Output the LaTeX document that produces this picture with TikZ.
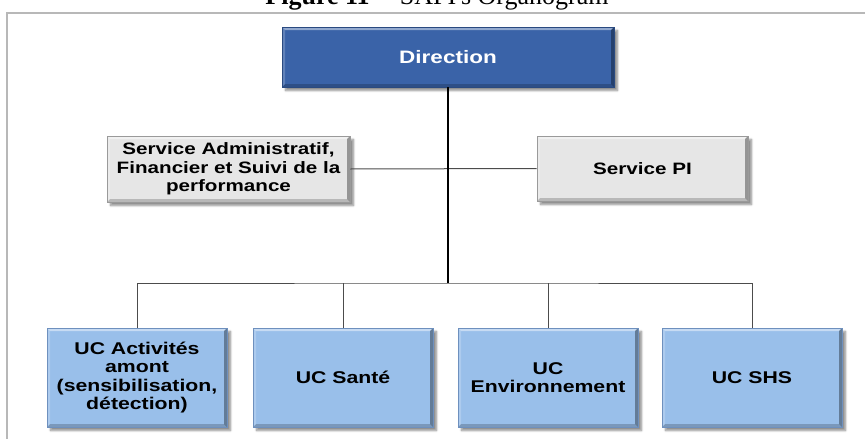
\documentclass[tikz,border=0pt]{standalone}
\usepackage{fontspec}
\setmainfont{Liberation Sans}[FakeStretch=1.25]
\newfontfamily\captionserif{Liberation Serif}
\usetikzlibrary{shadows.blur}

\definecolor{dirblue}{HTML}{3A63A8}
\definecolor{dirborder}{HTML}{2A4A80}
\definecolor{ucblue}{HTML}{99BFEA}
\definecolor{ucborder}{HTML}{6E90BE}
\definecolor{svcgray}{HTML}{E6E6E6}
\definecolor{svcborder}{HTML}{9A9A9A}

\begin{document}
\begin{tikzpicture}[x=1pt, y=-1pt,
    bevel/.style={path picture={
        \fill[white, opacity=0.45] (path picture bounding box.north west) -- (path picture bounding box.north east) -- ([shift={(-3pt,-3pt)}]path picture bounding box.north east) -- ([shift={(3pt,-3pt)}]path picture bounding box.north west) -- cycle;
        \fill[black, opacity=0.35] (path picture bounding box.south east) -- (path picture bounding box.north east) -- ([shift={(-3pt,-3pt)}]path picture bounding box.north east) -- ([shift={(-3pt,3pt)}]path picture bounding box.south east) -- cycle;
        \fill[black, opacity=0.2] (path picture bounding box.south west) -- (path picture bounding box.south east) -- ([shift={(-3pt,3pt)}]path picture bounding box.south east) -- ([shift={(3pt,3pt)}]path picture bounding box.south west) -- cycle;
        \fill[white, opacity=0.2] (path picture bounding box.south west) -- (path picture bounding box.north west) -- ([shift={(3pt,-3pt)}]path picture bounding box.north west) -- ([shift={(3pt,3pt)}]path picture bounding box.south west) -- cycle;
    }},
    box/.style={draw, line width=0.6pt, bevel, align=center, inner sep=0pt,
        blur shadow={shadow xshift=3.5pt, shadow yshift=-3.5pt, shadow blur steps=6, shadow opacity=45}},
    dirbox/.style={box, fill=dirblue, draw=dirborder, text=white, font=\bfseries\fontsize{18}{20}\selectfont},
    svcbox/.style={box, fill=svcgray, draw=svcborder, font=\bfseries\fontsize{16.5}{18.5}\selectfont},
    ucbox/.style={box, fill=ucblue, draw=ucborder, minimum width=180pt, minimum height=99pt, font=\bfseries\fontsize{17}{18.5}\selectfont},
    trunk/.style={line width=1.8pt, black},
    branch/.style={line width=1pt, black!70},
    frame/.style={line width=1.5pt, black!28}]

    \useasboundingbox (0,0) rectangle (865,439);

    % caption, cut at the top of the page
    \node [anchor=base, font=\captionserif\fontsize{26}{28}\selectfont] (caption) at (437,5) {\textbf{Figure 11} -- SAPI's Organogram};
    \draw [frame] (7,440) -- (7,13) -- (870,13);

    \node [dirbox, minimum width=332pt, minimum height=60pt] (direction) at (448,57) {Direction};
    \node [svcbox, minimum width=243pt, minimum height=66pt] (admin) at (228.5,169) {Service Administratif,\\Financier et Suivi de la\\performance};
    \node [svcbox, minimum width=211pt, minimum height=65pt] (servpi) at (642.5,168.5) {Service PI};

    \node [ucbox] (amont) at (137,377.5) {UC Activités\\amont\\(sensibilisation,\\détection)};
    \node [ucbox] (sante) at (343,377.5) {UC Santé};
    \node [ucbox] (envt) at (548,377.5) {UC\\Environnement};
    \node [ucbox] (shs) at (752,377.5) {UC SHS};

    \coordinate (bus) at (448,283);

    \draw [branch] (admin.east) -- (servpi.west);
    \draw [branch] (amont.north) |- (bus) -| (shs.north);
    \draw [branch] (sante.north) -- (sante.north |- bus);
    \draw [branch] (envt.north) -- (envt.north |- bus);
    \draw [trunk] (direction.south) -- (bus);
\end{tikzpicture}
\end{document}
